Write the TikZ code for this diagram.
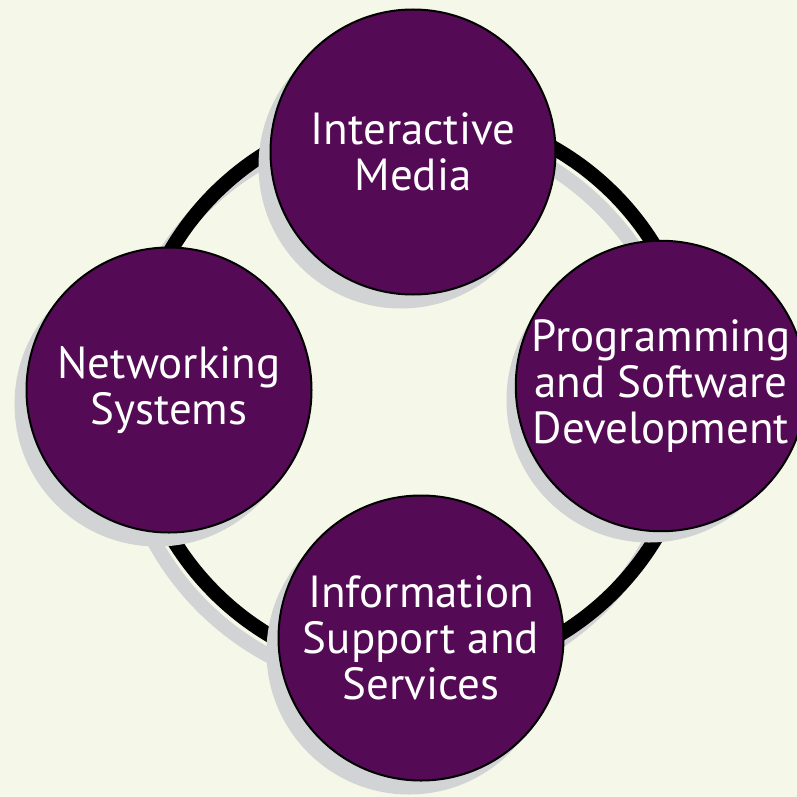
\documentclass[tikz,border=0pt]{standalone}
\usepackage{fontspec}
\setmainfont{PT Sans}
\definecolor{bg}{HTML}{F5F8E8}
\definecolor{plum}{HTML}{540A55}
\definecolor{shadowgrey}{HTML}{D1D3D4}
\tikzset{
  bubble/.style={circle, draw=black, line width=2pt, fill=plum, minimum size=285pt, inner sep=0pt,
    text=white, align=center, font=\fontsize{45}{46}\selectfont},
  bubshadow/.style={circle, fill=shadowgrey, minimum size=285pt, inner sep=0pt},
  ringline/.style={line width=14.5pt},
}
\begin{document}
\begin{tikzpicture}[x=1pt,y=-1pt]
\fill[bg] (0,0) rectangle (797,797);
\useasboundingbox (0,0) rectangle (797,797);
\coordinate (c) at (414,393);
\coordinate (cs) at (402,407);
\draw[ringline, draw=shadowgrey] (cs) circle[radius=282];
\draw[ringline, draw=black] (c) circle[radius=282];
\node[bubshadow] (s1) at (401,166) {};
\node[bubble] (im) at (413,152) {Interactive\\Media};
\node[bubshadow] (s2) at (649,400) {};
\node[bubble] (psd) at (661,386) {Programming\\and Software\\Development};
\node[bubshadow] (s3) at (157,404) {};
\node[bubble] (ns) at (169,390) {Networking\\Systems};
\node[bubshadow] (s4) at (409,652) {};
\node[bubble] (iss) at (421,638) {Information\\Support and\\Services};
\end{tikzpicture}
\end{document}
